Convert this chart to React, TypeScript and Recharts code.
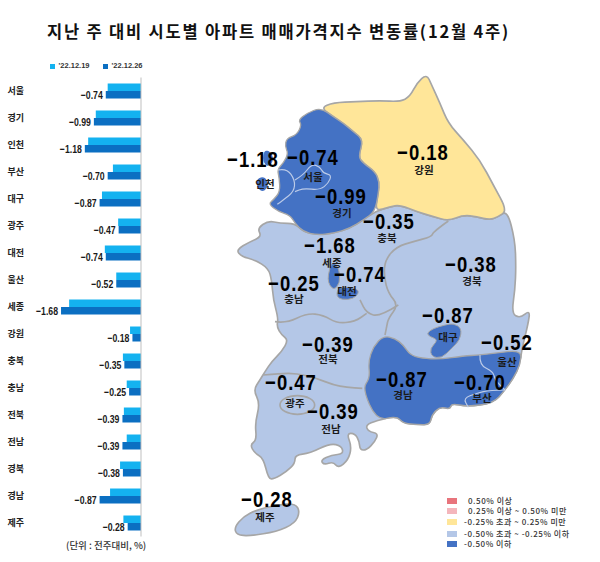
import { Bar, BarChart, LabelList, Legend, XAxis, YAxis } from "recharts";

const regions = ["서울", "경기", "인천", "부산", "대구", "광주", "대전", "울산", "세종", "강원", "충북", "충남", "전북", "전남", "경북", "경남", "제주"];
const prevWeek = [-0.7, -0.95, -1.11, -0.59, -0.82, -0.48, -0.76, -0.52, -1.51, -0.23, -0.38, -0.3, -0.36, -0.3, -0.44, -0.65, -0.37];
const thisWeek = [-0.74, -0.99, -1.18, -0.7, -0.87, -0.47, -0.74, -0.52, -1.68, -0.18, -0.35, -0.25, -0.39, -0.39, -0.38, -0.87, -0.28];
const legendRows = ["0.50% 이상", "0.25% 이상 ~ 0.50% 미만", "-0.25% 초과 ~ 0.25% 미만", "-0.50% 초과 ~ -0.25% 이하", "-0.50% 이하"];

const chartData = regions.map((name, i) => ({ name, prev: prevWeek[i], cur: thisWeek[i] }));

const LIGHT = "#b4c7e7";
const DARK = "#4472c4";
const YELLOW = "#ffe699";
const EDGE = "#a6a6a6";
const PALE = "#bccbe8";
const KR = "'Noto Sans CJK KR', sans-serif";
const SANS = "'Liberation Sans', sans-serif";

const legendColors = ["#e8747c", "#f4b6bc", YELLOW, LIGHT, DARK];
const legendTextX = [468, 468, 464, 464, 464];
const legendY = [501, 511, 522, 534, 544];

// map outlines (3x map units, see the transform on the group)
const gangwon = [[362, 143], [400, 128], [470, 125], [540, 122], [600, 125], [630, 110], [650, 70], [680, 42], [695, 75], [720, 130], [745, 190], [790, 240], [840, 300], [880, 375], [922, 452], [895, 470], [870, 480], [830, 470], [790, 465], [745, 483], [700, 470], [650, 455], [600, 435], [570, 440], [525, 455], [535, 400], [538, 365], [525, 335], [490, 310], [475, 290], [490, 240], [460, 215], [430, 190], [400, 170]];
const gyeonggi = [[362, 143], [400, 170], [430, 190], [460, 215], [490, 240], [475, 290], [490, 310], [525, 335], [538, 365], [535, 400], [525, 455], [490, 480], [450, 505], [400, 520], [350, 525], [310, 515], [285, 490], [270, 465], [235, 455], [205, 432], [222, 418], [240, 395], [238, 355], [232, 328], [250, 310], [265, 280], [255, 260], [260, 235], [290, 225], [305, 195], [295, 180], [320, 160]];
const incheonIslandA = [[192, 270], [212, 275], [222, 300], [205, 322], [188, 305]];
const incheonIslandB = [[170, 355], [195, 350], [207, 375], [190, 397], [172, 385]];
const southLand = [[172, 505], [205, 482], [240, 490], [285, 490], [310, 515], [350, 525], [400, 520], [450, 505], [490, 480], [525, 455], [570, 440], [600, 435], [650, 455], [700, 470], [745, 483], [790, 465], [830, 470], [870, 480], [895, 470], [922, 452], [945, 540], [948, 620], [945, 690], [935, 760], [960, 775], [990, 750], [985, 790], [965, 870], [960, 915], [940, 955], [915, 990], [880, 1030], [800, 1040], [755, 1030], [750, 1048], [720, 1040], [695, 1065], [690, 1095], [650, 1093], [610, 1090], [590, 1068], [530, 1082], [497, 1095], [505, 1115], [535, 1120], [525, 1145], [500, 1170], [480, 1170], [478, 1145], [465, 1120], [440, 1120], [455, 1160], [445, 1200], [415, 1225], [400, 1205], [372, 1215], [362, 1200], [395, 1185], [430, 1182], [425, 1158], [390, 1150], [330, 1180], [285, 1185], [285, 1210], [260, 1235], [220, 1258], [205, 1255], [190, 1195], [165, 1180], [150, 1155], [170, 1140], [165, 1090], [180, 1030], [160, 990], [180, 960], [195, 935], [215, 905], [245, 875], [265, 840], [245, 825], [230, 800], [235, 775], [220, 720], [215, 660], [205, 625], [165, 600], [125, 590], [108, 570], [150, 545], [185, 530]];
const gyeongnam = [[487, 985], [510, 955], [505, 905], [520, 860], [550, 828], [585, 835], [610, 855], [630, 885], [665, 895], [720, 898], [790, 888], [840, 885], [880, 880], [965, 870], [960, 915], [940, 955], [915, 990], [880, 1030], [800, 1040], [755, 1030], [750, 1048], [720, 1040], [695, 1065], [690, 1095], [650, 1093], [610, 1090], [590, 1068], [530, 1082]];
const sejong = [[397, 600], [418, 625], [420, 670], [400, 692], [380, 660]];
const daejeon = [[412, 685], [445, 680], [478, 690], [470, 710], [445, 720], [410, 715]];
const daegu = [[680, 820], [700, 805], [735, 795], [760, 790], [785, 805], [780, 840], [755, 865], [725, 895], [695, 890], [690, 865], [715, 840], [690, 830]];
const jeju = [[103, 1402], [130, 1370], [170, 1350], [230, 1335], [285, 1330], [300, 1355], [285, 1390], [230, 1415], [150, 1428], [110, 1425]];

const innerLines = [
  [[745, 483], [700, 515], [695, 530], [640, 545], [590, 560], [555, 600], [552, 650], [565, 700], [595, 735], [565, 775], [560, 800], [555, 825]],
  [[595, 735], [540, 770], [500, 760], [480, 720]],
  [[225, 785], [260, 790], [320, 760], [370, 765], [410, 790], [465, 785], [500, 760]],
  [[190, 945], [240, 940], [290, 940], [350, 955], [400, 975], [440, 982], [487, 985]],
];
const paleLines = [
  [[235, 330], [260, 325], [285, 360], [282, 395], [250, 420], [232, 433]],
  [[285, 360], [310, 345], [335, 312], [360, 320], [370, 340], [395, 345], [385, 370], [360, 390], [310, 385], [285, 395]],
  [[840, 885], [838, 915], [880, 935], [885, 960], [915, 990]],
  [[915, 990], [870, 990], [830, 1000], [790, 1015], [805, 1042]],
];

// where each figure and name sits on the map: [region, value centre x, value baseline, name x, name y]
const mapSpots: [string, number, number, number, number][] = [
  ["인천", 253, 167, 265, 188],
  ["서울", 313, 165, 313, 181],
  ["강원", 423, 160, 424, 174],
  ["경기", 341, 204, 342, 217],
  ["충북", 389, 229, 387, 242],
  ["세종", 330, 253, 332, 267],
  ["경북", 471, 272, 472, 285],
  ["대전", 360, 282, 347, 295],
  ["충남", 294, 291, 294, 303],
  ["대구", 448, 323, 448, 341],
  ["전북", 328, 352, 328, 363],
  ["울산", 507, 350, 507, 366],
  ["광주", 291, 390, 295, 407],
  ["경남", 402, 387, 403, 399],
  ["부산", 480, 390, 482, 402],
  ["전남", 333, 419, 331, 433],
  ["제주", 267, 507, 265, 521],
];

const smooth = (pts: number[][], closed = true) => {
  if (!closed) {
    let d = `M${pts[0][0]},${pts[0][1]}`;
    for (let i = 1; i < pts.length - 1; i++) {
      const mx = (pts[i][0] + pts[i + 1][0]) / 2;
      const my = (pts[i][1] + pts[i + 1][1]) / 2;
      d += `Q${pts[i][0]},${pts[i][1]} ${mx},${my}`;
    }
    const last = pts[pts.length - 1];
    return `${d}L${last[0]},${last[1]}`;
  }
  const n = pts.length;
  const mid = (a: number[], b: number[]) => [(a[0] + b[0]) / 2, (a[1] + b[1]) / 2];
  const start = mid(pts[n - 1], pts[0]);
  let d = `M${start[0]},${start[1]}`;
  pts.forEach((p, i) => {
    const m = mid(p, pts[(i + 1) % n]);
    d += `Q${p[0]},${p[1]} ${m[0]},${m[1]}`;
  });
  return d + "Z";
};

const fmt = (v: number) => `−${Math.abs(v).toFixed(2)}`;

const BarValue = (props: any) => {
  const { x, y, width, height, value } = props;
  const left = Math.min(x, x + width);
  return (
    <text
      x={left - 3}
      y={y + height / 2 + 4}
      textAnchor="end"
      fontFamily={SANS}
      fontWeight={700}
      fontSize={11.5}
      fill="#1a1a1a"
      textLength={22}
      lengthAdjust="spacingAndGlyphs"
    >
      {fmt(value)}
    </text>
  );
};

const KoreaMap = () => (
  <svg width={600} height={562} style={{ position: "absolute", left: 0, top: 0 }}>
    <g transform="translate(200,60) scale(0.3333)" strokeLinejoin="round">
      <path d={smooth(southLand)} fill={LIGHT} stroke={EDGE} strokeWidth={5} />
      <path d={smooth(gangwon)} fill={YELLOW} stroke={EDGE} strokeWidth={5} />
      {innerLines.map((l, i) => (
        <path key={i} d={smooth(l, false)} fill="none" stroke={EDGE} strokeWidth={5} />
      ))}
      <path d={smooth(gyeonggi)} fill={DARK} stroke={EDGE} strokeWidth={4} />
      <path d={smooth(incheonIslandA)} fill={DARK} />
      <path d={smooth(incheonIslandB)} fill={DARK} />
      <path d={smooth(gyeongnam)} fill={DARK} stroke={EDGE} strokeWidth={4} />
      <path d={smooth(sejong)} fill={DARK} stroke={EDGE} strokeWidth={3} />
      <path d={smooth(daejeon)} fill={DARK} stroke={EDGE} strokeWidth={3} />
      <path d={smooth(daegu)} fill={DARK} stroke={EDGE} strokeWidth={3} />
      <ellipse cx={292} cy={1035} rx={52} ry={28} fill={LIGHT} stroke={EDGE} strokeWidth={5} />
      <path d={smooth(jeju)} fill={LIGHT} stroke={EDGE} strokeWidth={5} />
      {paleLines.map((l, i) => (
        <path key={i} d={smooth(l, false)} fill="none" stroke={PALE} strokeWidth={3.5} />
      ))}
    </g>
    {mapSpots.map(([name, vx, vy, nx, ny]) => (
      <g key={name}>
        <text x={nx} y={ny} textAnchor="middle" fontFamily={KR} fontWeight={700} fontSize={10.5} fill="#1a1a1a">
          {name}
        </text>
        <text
          transform={`translate(${vx},${vy}) scale(0.84,1)`}
          textAnchor="middle"
          fontFamily={SANS}
          fontWeight={700}
          fontSize={22}
          letterSpacing={1.2}
          fill="#000"
        >
          {fmt(thisWeek[regions.indexOf(name)])}
        </text>
      </g>
    ))}
    {legendRows.map((row, i) => (
      <g key={row}>
        <rect x={447} y={legendY[i] - 3} width={10} height={6} fill={legendColors[i]} />
        <text x={legendTextX[i]} y={legendY[i] + 3} fontFamily={KR} fontWeight={500} fontSize={8} fill="#333" letterSpacing={0.55}>
          {row}
        </text>
      </g>
    ))}
    <text x={47} y={37.5} fontFamily={KR} fontWeight={700} fontSize={16.5} fill="#111" letterSpacing={1.8}>
      지난 주 대비 시도별 아파트 매매가격지수 변동률(12월 4주)
    </text>
    <text x={66} y={549} fontFamily={KR} fontWeight={500} fontSize={9.5} fill="#333">
      (단위 : 전주대비, %)
    </text>
  </svg>
);

export default function App() {
  return (
    <div style={{ position: "absolute", left: 0, top: 0, width: 600, height: 562, background: "#fff" }}>
      <KoreaMap />
      <div style={{ position: "absolute", left: 0, top: 0 }}>
        <BarChart
          width={150}
          height={562}
          layout="vertical"
          data={chartData}
          margin={{ top: 77.5, right: 0, bottom: 25.5, left: 0 }}
          barSize={7.5}
          barGap={0}
        >
          <XAxis type="number" domain={[-2.29, 0]} hide />
          <YAxis
            yAxisId="names"
            type="category"
            dataKey="name"
            orientation="left"
            width={32}
            axisLine={false}
            tickLine={false}
            interval={0}
            tick={{ fontSize: 9, fontFamily: KR, fontWeight: 700, fill: "#222" }}
            tickMargin={2}
          />
          <YAxis
            yAxisId="bars"
            type="category"
            dataKey="name"
            orientation="right"
            width={9}
            tick={false}
            tickLine={false}
            axisLine={{ stroke: "#bfbfbf", strokeWidth: 1 }}
          />
          <Legend
            layout="horizontal"
            align="center"
            verticalAlign="middle"
            iconType="square"
            iconSize={5}
            wrapperStyle={{ top: 60, left: 46, width: 113, fontSize: 7.5, fontFamily: SANS, fontWeight: 700, lineHeight: "11px", padding: 0 }}
            formatter={(value: string) => <span style={{ color: "#333", paddingRight: 3 }}>{value}</span>}
          />
          <Bar yAxisId="bars" dataKey="prev" name="'22.12.19" fill="#14b2f0" isAnimationActive={false} />
          <Bar yAxisId="bars" dataKey="cur" name="'22.12.26" fill="#0b6fc2" isAnimationActive={false}>
            <LabelList dataKey="cur" content={BarValue} />
          </Bar>
        </BarChart>
      </div>
    </div>
  );
}
